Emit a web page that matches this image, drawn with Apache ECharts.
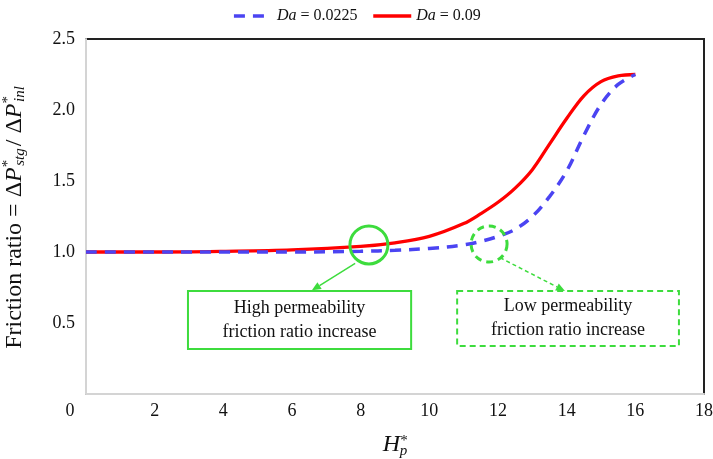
<!DOCTYPE html>
<html lang="en">
<head>
    <meta charset="UTF-8">
    <title>Friction ratio vs H*p</title>
    <script src="https://cdn.jsdelivr.net/npm/echarts/dist/echarts.min.js"></script>
    <style>
        html, body { margin: 0; padding: 0; background: #fff; }
        #chart-container { width: 713px; height: 459px; }
    </style>
</head>
<body>
    <div id="chart-container"></div>

    <script>
        var FONT = '"Liberation Serif", "DejaVu Serif", serif';
        var GREEN = '#3ddc3d';

        // valores
        var hp = [0, 2, 4, 6, 8, 9, 10, 11, 11.5, 12, 12.5, 13, 13.5, 14, 14.5, 15, 15.5, 16];
        var ratioLowDa = [1.0, 1.0, 1.0, 1.0, 1.005, 1.012, 1.025, 1.05, 1.075, 1.11, 1.16, 1.25, 1.39, 1.57, 1.82, 2.04, 2.18, 2.25];
        var ratioHighDa = [1.0, 1.0, 1.005, 1.015, 1.04, 1.065, 1.11, 1.2, 1.27, 1.35, 1.45, 1.58, 1.76, 1.94, 2.1, 2.2, 2.24, 2.25];
        var seriesNames = ['Da = 0.0225', 'Da = 0.09'];

        function pairs(xs, ys) {
            return xs.map(function (x, i) { return [x, ys[i]]; });
        }

        var myChart = echarts.init(document.getElementById('chart-container'));

        var option = {
            animation: false,
            textStyle: { fontFamily: FONT },
            legend: {
                top: 3,
                left: 'center',
                itemWidth: 38,
                itemHeight: 14,
                itemGap: 14,
                itemStyle: { opacity: 0 },
                lineStyle: { width: 3.5 },
                textStyle: {
                    fontFamily: FONT, fontSize: 16, color: '#111',
                    rich: { i: { fontFamily: FONT, fontSize: 16, fontStyle: 'italic', color: '#111' } }
                },
                formatter: function (name) {
                    return '{i|Da} ' + name.slice(3);
                },
                data: seriesNames
            },
            grid: {
                left: 86, right: 9, top: 39, bottom: 65,
                outerBoundsMode: 'none',
                containLabel: false,
                show: true, borderColor: '#222', borderWidth: 2
            },
            xAxis: {
                type: 'value',
                min: 0, max: 18, interval: 2,
                name: '{i|H}{sup|*}{sub|p}',
                nameLocation: 'middle',
                nameGap: 36,
                nameTextStyle: {
                    rich: {
                        i: { fontFamily: FONT, fontSize: 24, fontStyle: 'italic', color: '#111' },
                        sup: { fontFamily: FONT, fontSize: 15, color: '#111', padding: [0, 0, 6, 0] },
                        sub: { fontFamily: FONT, fontSize: 15, fontStyle: 'italic', color: '#111', padding: [14, 0, 0, -8] }
                    }
                },
                axisLine: { show: true, lineStyle: { color: '#d4d4d4', width: 2 } },
                axisTick: { show: false },
                splitLine: { show: false },
                axisLabel: {
                    margin: 8,
                    fontFamily: FONT, fontSize: 18, color: '#111',
                    formatter: function (v) { return v === 0 ? '{z|0}' : String(v); },
                    rich: { z: { fontFamily: FONT, fontSize: 18, color: '#111', padding: [0, 32, 0, 0] } }
                }
            },
            yAxis: {
                type: 'value',
                min: 0, max: 2.5, interval: 0.5,
                name: '{n|Friction ratio = Δ}{i|P}{sup|*}{sub|stg}{n|/ Δ}{i|P}{sup|*}{sub|inl}',
                nameLocation: 'middle',
                nameRotate: 90,
                nameGap: 58,
                nameTextStyle: {
                    rich: {
                        n: { fontFamily: FONT, fontSize: 24, color: '#111' },
                        i: { fontFamily: FONT, fontSize: 24, fontStyle: 'italic', color: '#111' },
                        sup: { fontFamily: FONT, fontSize: 15, color: '#111', padding: [0, 0, 12, 0] },
                        sub: { fontFamily: FONT, fontSize: 15, fontStyle: 'italic', color: '#111', padding: [12, 2, 0, -6] }
                    }
                },
                axisLine: { show: true, lineStyle: { color: '#d4d4d4', width: 2 } },
                axisTick: { show: false },
                splitLine: { show: false },
                axisLabel: {
                    margin: 11,
                    fontFamily: FONT, fontSize: 18, color: '#111',
                    formatter: function (v) { return v === 0 ? '' : v.toFixed(1); }
                }
            },
            series: [
                {
                    name: seriesNames[0],
                    type: 'line',
                    smooth: 0.35,
                    symbol: 'none',
                    data: pairs(hp, ratioLowDa),
                    lineStyle: { color: '#4b44f2', width: 3.5, type: [11, 8] },
                    itemStyle: { color: '#4b44f2' },
                    z: 3
                },
                {
                    name: seriesNames[1],
                    type: 'line',
                    smooth: 0.35,
                    symbol: 'none',
                    data: pairs(hp, ratioHighDa),
                    lineStyle: { color: '#ff0000', width: 3.3 },
                    itemStyle: { color: '#ff0000' },
                    z: 2
                }
            ]
        };

        myChart.setOption(option);

        // anotaciones en coordenadas de datos
        var notes = [
            { circle: [8.24, 1.05], r: 19, from: [7.84, 0.92], to: [6.58, 0.73],
              box: [[2.97, 0.725], [9.47, 0.317]], dashed: false,
              lines: ['High permeability', 'friction ratio increase'] },
            { circle: [11.74, 1.056], r: 18, from: [12.06, 0.96], to: [13.95, 0.725],
              box: [[10.81, 0.725], [17.27, 0.338]], dashed: true,
              lines: ['Low permeability', 'friction ratio increase'] }
        ];

        function px(p) { return myChart.convertToPixel({ gridIndex: 0 }, p); }

        var elements = [];
        notes.forEach(function (n) {
            var c = px(n.circle);
            var a = px(n.from), b = px(n.to);
            var b0 = px(n.box[0]), b1 = px(n.box[1]);
            var dash = n.dashed ? [6, 4] : null;

            elements.push({
                type: 'circle',
                shape: { cx: c[0], cy: c[1], r: n.r },
                style: { fill: 'none', stroke: GREEN, lineWidth: 3, lineDash: n.dashed ? [7, 5] : null },
                z: 10
            });

            // flecha
            var ang = Math.atan2(b[1] - a[1], b[0] - a[0]);
            var hl = 9, hw = 4;
            var base = [b[0] - hl * Math.cos(ang), b[1] - hl * Math.sin(ang)];
            elements.push({
                type: 'line',
                shape: { x1: a[0], y1: a[1], x2: base[0], y2: base[1] },
                style: { stroke: GREEN, lineWidth: 1.5, lineDash: n.dashed ? [4, 3] : null },
                z: 10
            });
            elements.push({
                type: 'polygon',
                shape: { points: [
                    b,
                    [base[0] + hw * Math.sin(ang), base[1] - hw * Math.cos(ang)],
                    [base[0] - hw * Math.sin(ang), base[1] + hw * Math.cos(ang)]
                ] },
                style: { fill: GREEN },
                z: 10
            });

            // caja con texto
            elements.push({
                type: 'rect',
                shape: { x: b0[0], y: b0[1], width: b1[0] - b0[0], height: b1[1] - b0[1] },
                style: { fill: '#fff', stroke: GREEN, lineWidth: 2, lineDash: dash },
                z: 10
            });
            elements.push({
                type: 'text',
                x: (b0[0] + b1[0]) / 2,
                y: (b0[1] + b1[1]) / 2,
                style: {
                    text: n.lines.join('\n'),
                    fontFamily: FONT, fontSize: 18, lineHeight: 24,
                    fill: '#111', align: 'center', verticalAlign: 'middle'
                },
                z: 11
            });
        });

        myChart.setOption({ graphic: { elements: elements } });
    </script>
</body>
</html>
